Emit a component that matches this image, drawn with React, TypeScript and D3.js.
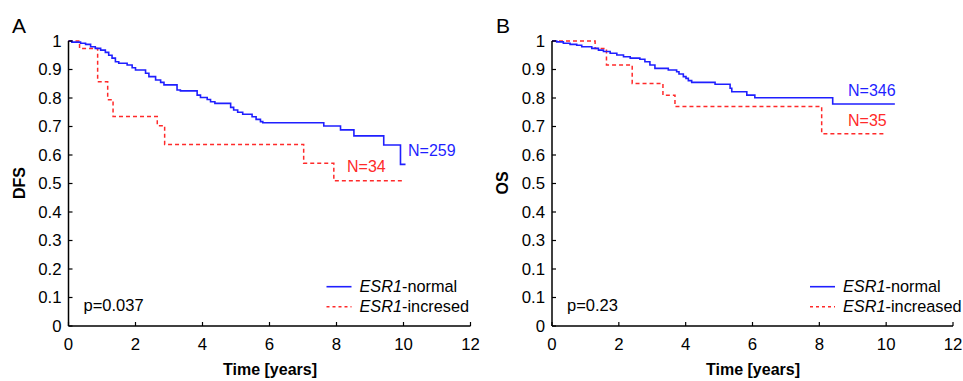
import React from "react";
import * as d3 from "d3";

// ---------- data ----------
const xTicks = [0, 2, 4, 6, 8, 10, 12];
const yTicks = [0, 0.1, 0.2, 0.3, 0.4, 0.5, 0.6, 0.7, 0.8, 0.9, 1];
const yTickLabelsA = ["0", "0.1", "0.2", "0.3", "0.4", "0.5", "0.6", "0.7", "0.8", "0.9", "1"];
const yTickLabelsB = ["0", "0.1", "0.1", "0.3", "0.4", "0.5", "0.6", "0.7", "0.8", "0.9", "1"];

// Panel A (DFS)
const aNormalT = [0, 0.1, 0.36, 0.51, 0.66, 0.8, 0.96, 1.1, 1.2, 1.3, 1.4, 1.5, 1.75, 1.9, 2.0, 2.3, 2.4, 2.6, 2.75, 2.85, 3.24, 3.34, 3.84, 3.94, 4.14, 4.24, 4.37, 4.84, 4.93, 5.05, 5.2, 5.48, 5.6, 5.73, 5.8, 7.62, 8.12, 8.52, 9.41, 9.91, 10.06];
const aNormalS = [1.0, 0.996, 0.992, 0.988, 0.98, 0.974, 0.968, 0.96, 0.95, 0.94, 0.927, 0.922, 0.916, 0.906, 0.898, 0.887, 0.875, 0.863, 0.855, 0.846, 0.828, 0.825, 0.81, 0.802, 0.795, 0.787, 0.781, 0.767, 0.758, 0.75, 0.743, 0.734, 0.725, 0.717, 0.713, 0.702, 0.688, 0.667, 0.635, 0.567, 0.567];
const aIncT = [0, 0.33, 0.87, 1.17, 1.33, 2.65, 2.87, 7.02, 7.92, 9.96];
const aIncS = [1.0, 0.974, 0.857, 0.794, 0.735, 0.703, 0.637, 0.571, 0.51, 0.51];

// Panel B (OS)
const bNormalT = [0, 0.14, 0.34, 0.54, 0.74, 0.89, 1.19, 1.39, 1.54, 1.74, 1.94, 2.14, 2.34, 2.63, 2.78, 2.93, 3.08, 3.48, 3.73, 3.8, 3.93, 4.01, 4.08, 4.18, 4.88, 5.33, 5.38, 5.83, 6.07, 8.4, 10.26];
const bNormalS = [1.0, 0.997, 0.992, 0.988, 0.985, 0.98, 0.974, 0.968, 0.963, 0.957, 0.951, 0.945, 0.94, 0.936, 0.927, 0.916, 0.904, 0.898, 0.892, 0.884, 0.875, 0.869, 0.861, 0.855, 0.848, 0.834, 0.822, 0.81, 0.801, 0.779, 0.779];
const bIncT = [0, 1.29, 1.63, 2.4, 3.32, 3.68, 8.07, 9.95];
const bIncS = [1.0, 0.974, 0.916, 0.851, 0.81, 0.77, 0.675, 0.675];

const FONT = "'Liberation Sans', Arial, Helvetica, sans-serif";
const BLUE = "#1f1fff";
const RED = "#ff2a2a";
const TICK_FS = 16.8;

type PanelProps = {
  letter: string;
  yTitle: string;
  yLabels: string[];
  x0: number;
  x1: number;
  normT: number[];
  normS: number[];
  incT: number[];
  incS: number[];
  nNorm: string;
  nInc: string;
  nNormPos: [number, number];
  nIncPos: [number, number];
  pText: string;
  incLabel: string;
  letterX: number;
  yTitleX: number;
};

function Panel(p: PanelProps) {
  const x = d3.scaleLinear().domain([0, 12]).range([p.x0, p.x1]);
  const y = d3.scaleLinear().domain([0, 1]).range([326, 41]);
  const line = d3
    .line<[number, number]>()
    .x((d) => x(d[0]))
    .y((d) => y(d[1]))
    .curve(d3.curveStepAfter);
  const normPts = p.normT.map((t, i) => [t, p.normS[i]] as [number, number]);
  const incPts = p.incT.map((t, i) => [t, p.incS[i]] as [number, number]);
  const legX = x(0) + 258;
  return (
    <g>
      <text x={p.letterX} y={33} fontSize={21} fontFamily={FONT}>{p.letter}</text>
      <text
        transform={`translate(${p.yTitleX},${183}) rotate(-90)`}
        textAnchor="middle"
        fontSize={16}
        fontWeight="bold"
        fontFamily={FONT}
      >
        {p.yTitle}
      </text>
      <text x={(p.x0 + p.x1) / 2 + 0.5} y={375} textAnchor="middle" fontSize={16} fontWeight="bold" fontFamily={FONT}>
        Time [years]
      </text>
      {/* curves */}
      <path d={line(incPts) || ""} fill="none" stroke={RED} strokeWidth={1.5} strokeDasharray="4,3" />
      <path d={line(normPts) || ""} fill="none" stroke={BLUE} strokeWidth={1.6} />
      {/* axes */}
      <line x1={x(0)} x2={x(12)} y1={y(0)} y2={y(0)} stroke="#000" strokeWidth={1.5} />
      <line x1={x(0)} x2={x(0)} y1={y(0)} y2={y(1)} stroke="#000" strokeWidth={1.5} />
      {xTicks.map((t) => (
        <g key={"xt" + t}>
          <line x1={x(t)} x2={x(t)} y1={y(0)} y2={y(0) - 4} stroke="#000" strokeWidth={1.2} />
          <text x={x(t)} y={350} textAnchor="middle" fontSize={TICK_FS} fontFamily={FONT}>{t}</text>
        </g>
      ))}
      {yTicks.map((t, i) => (
        <g key={"yt" + t}>
          <line x1={x(0)} x2={x(0) + 4} y1={y(t)} y2={y(t)} stroke="#000" strokeWidth={1.2} />
          <text x={x(0) - 7} y={y(t) + 5.8} textAnchor="end" fontSize={TICK_FS} fontFamily={FONT}>{p.yLabels[i]}</text>
        </g>
      ))}
      {/* N labels */}
      <text x={p.nNormPos[0]} y={p.nNormPos[1]} fontSize={16} fill={BLUE} fontFamily={FONT}>{p.nNorm}</text>
      <text x={p.nIncPos[0]} y={p.nIncPos[1]} fontSize={16} fill={RED} fontFamily={FONT}>{p.nInc}</text>
      {/* p value */}
      <text x={x(0) + 15} y={311} fontSize={16.5} fontFamily={FONT}>{p.pText}</text>
      {/* legend */}
      <line x1={legX} x2={legX + 25} y1={286.7} y2={286.7} stroke={BLUE} strokeWidth={1.6} />
      <text x={legX + 33} y={292} fontSize={16.3} fontFamily={FONT}>
        <tspan fontStyle="italic">ESR1</tspan>-normal
      </text>
      <line x1={legX} x2={legX + 25} y1={306.7} y2={306.7} stroke={RED} strokeWidth={1.5} strokeDasharray="3,3" />
      <text x={legX + 33} y={312} fontSize={16.3} fontFamily={FONT}>
        <tspan fontStyle="italic">ESR1</tspan>{p.incLabel}
      </text>
    </g>
  );
}

export default function App() {
  return (
    <svg
      width={963}
      height={381}
      style={{ position: "absolute", left: 0, top: 0, background: "#fff" }}
    >
      <rect width={963} height={381} fill="#fff" />
      <Panel
        letter="A"
        yTitle="DFS"
        yLabels={yTickLabelsA}
        x0={68.5}
        x1={470.5}
        normT={aNormalT}
        normS={aNormalS}
        incT={aIncT}
        incS={aIncS}
        nNorm="N=259"
        nInc="N=34"
        nNormPos={[408, 156]}
        nIncPos={[347, 172]}
        pText="p=0.037"
        incLabel="-incresed"
        letterX={12}
        yTitleX={25}
      />
      <Panel
        letter="B"
        yTitle="OS"
        yLabels={yTickLabelsB}
        x0={552}
        x1={953}
        normT={bNormalT}
        normS={bNormalS}
        incT={bIncT}
        incS={bIncS}
        nNorm="N=346"
        nInc="N=35"
        nNormPos={[848, 96]}
        nIncPos={[848, 126]}
        pText="p=0.23"
        incLabel="-increased"
        letterX={496}
        yTitleX={508}
      />
    </svg>
  );
}
